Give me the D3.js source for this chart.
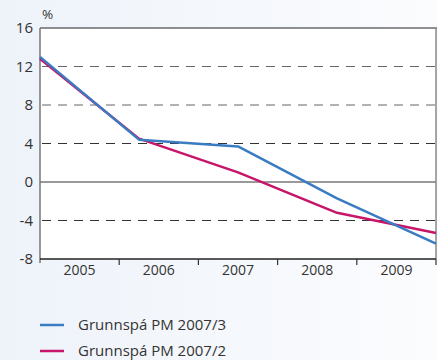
<!DOCTYPE html>
<html><head><meta charset="utf-8">
<script src="https://cdn.jsdelivr.net/npm/d3@7"></script>
<style>
html,body{margin:0;padding:0;}
body{width:438px;height:360px;overflow:hidden;}
svg{display:block;font-family:"Open Sans",sans-serif;}
</style></head>
<body>
<svg id="chart" width="438" height="360"></svg>
<script>
const years = ["2005","2006","2007","2008","2009"];
const yTicks = [-8,-4,0,4,8,12,16];
const pointIndex = [0,1,2,3,4];
const seriesNames = ["Grunnspá PM 2007/3","Grunnspá PM 2007/2"];
const blueValues = [13.0, 4.4, 3.7, -1.7, -6.4];
const redValues = [12.8, 4.5, 1.0, -3.2, -5.3];
const colors = ["#3a7cc2","#c7166a"];

const svg = d3.select("#chart");
const defs = svg.append("defs");
const grad = defs.append("linearGradient").attr("id","bg").attr("x1","0").attr("x2","1").attr("y1","0").attr("y2","0");
grad.append("stop").attr("offset","0").attr("stop-color","#eef3fa");
grad.append("stop").attr("offset","1").attr("stop-color","#fbfcfe");
svg.append("rect").attr("width",438).attr("height",360).attr("fill","url(#bg)");

const L = 40, R = 436, T = 28, B = 259;
const y = d3.scaleLinear().domain([-8,16]).range([B,T]);
const xb = d3.scaleBand().domain(years).range([L,R]);
const xp = d3.scaleLinear().domain([0,4]).range([L,R]);

svg.append("rect").attr("x",L).attr("y",T).attr("width",R-L).attr("height",B-T).attr("fill","#fff");

// gridlines
const g = svg.append("g");
[12,8,4,-4].forEach(v=>{
  g.append("line").attr("x1",L).attr("x2",R).attr("y1",y(v)).attr("y2",y(v))
   .attr("stroke", (v===4||v===-4) ? "#333" : "#666").attr("stroke-width",1.2)
   .attr("stroke-dasharray","9,7").attr("stroke-dashoffset",-2);
});
g.append("line").attr("x1",L).attr("x2",R).attr("y1",y(0)).attr("y2",y(0)).attr("stroke","#777").attr("stroke-width",1.5);

// borders
svg.append("line").attr("x1",L).attr("x2",R+1).attr("y1",T).attr("y2",T).attr("stroke","#222").attr("stroke-width",1.2);
svg.append("line").attr("x1",R).attr("x2",R).attr("y1",T).attr("y2",B).attr("stroke","#888").attr("stroke-width",1.5);
svg.append("line").attr("x1",L).attr("x2",L).attr("y1",T).attr("y2",B+4).attr("stroke","#777").attr("stroke-width",1.5);

// y axis
const ya = svg.append("g").attr("transform",`translate(${L},0)`)
  .call(d3.axisLeft(y).tickValues(yTicks).tickSize(0).tickPadding(7).tickFormat(d=>String(d)));
ya.select(".domain").remove();
ya.attr("font-size",null).attr("font-family",null);
ya.selectAll("text").style("font-size","15px").style("fill","#333").style("font-family","Open Sans");

svg.append("text").attr("x",42).attr("y",19).text("%").style("font-size","13.5px").style("fill","#333");

// x axis
const xa = svg.append("g").attr("transform",`translate(0,${B})`)
  .call(d3.axisBottom(xb).tickSize(0).tickPadding(6));
xa.select(".domain").remove();
xa.attr("font-size",null).attr("font-family",null);
xa.selectAll("text").style("font-size","14px").style("fill","#333").style("font-family","Open Sans");
svg.append("line").attr("x1",L).attr("x2",R).attr("y1",B).attr("y2",B).attr("stroke","#222").attr("stroke-width",1.3);
years.forEach((yr,i)=>{
  const xx = xb(yr)+xb.bandwidth();
  svg.append("line").attr("x1",xx).attr("x2",xx).attr("y1",B).attr("y2",B+6).attr("stroke","#333").attr("stroke-width",1.2);
});

// lines
const line = d3.line().x((d,i)=>xp(pointIndex[i])).y(d=>y(d));
svg.append("path").datum(redValues).attr("d",line).attr("fill","none").attr("stroke",colors[1]).attr("stroke-width",2.5).attr("stroke-linejoin","round");
svg.append("path").datum(blueValues).attr("d",line).attr("fill","none").attr("stroke",colors[0]).attr("stroke-width",2.5).attr("stroke-linejoin","round");

// legend
seriesNames.forEach((n,i)=>{
  const ly = 325 + i*26;
  svg.append("line").attr("x1",40).attr("x2",64).attr("y1",ly).attr("y2",ly).attr("stroke",colors[i]).attr("stroke-width",2.5);
  svg.append("text").attr("x",78).attr("y",ly+5).text(n).style("font-size","15px").style("fill","#333");
});
</script>
</body></html>
